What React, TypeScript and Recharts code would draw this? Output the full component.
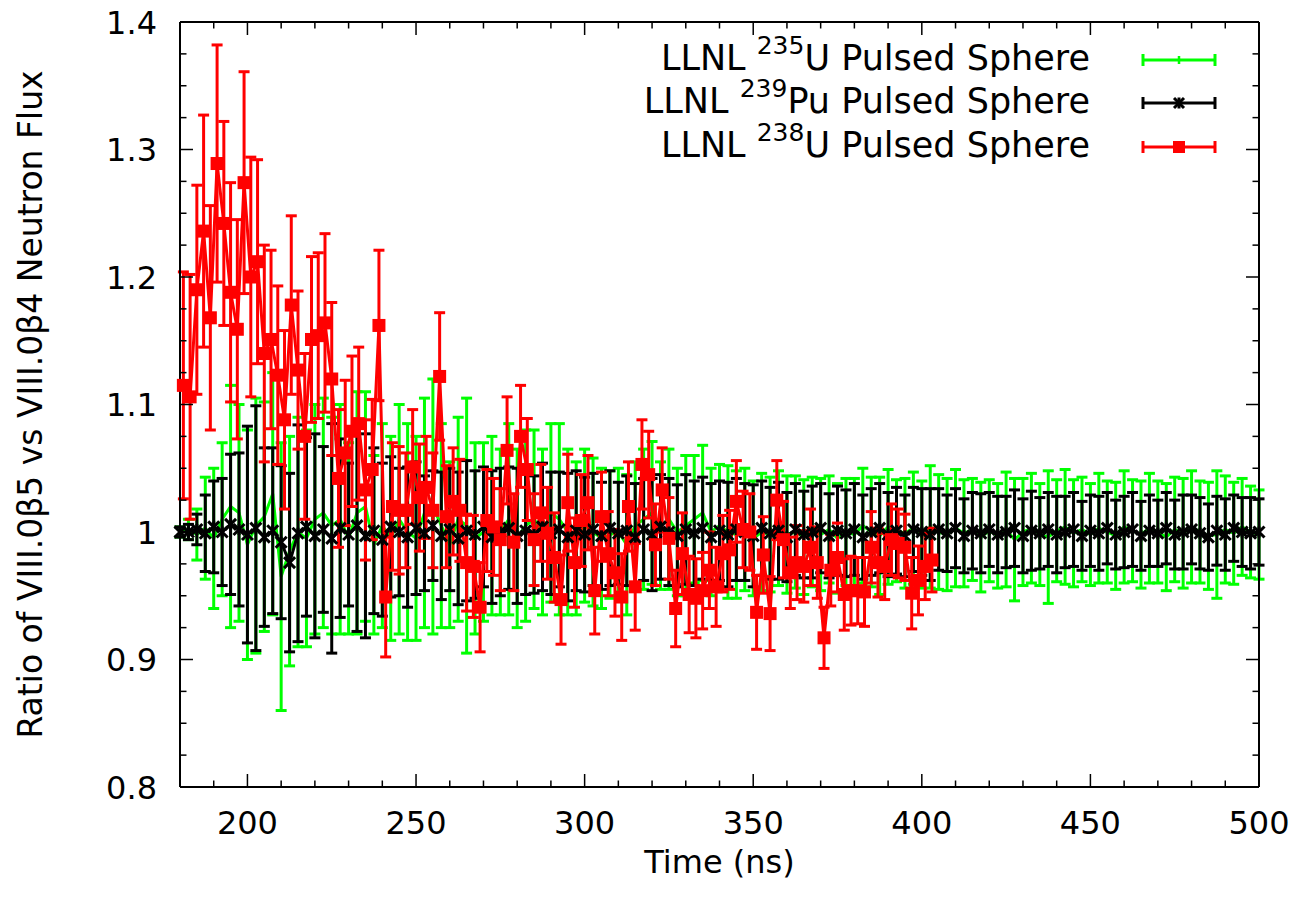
import React from 'react';
import { LineChart, Line, XAxis, YAxis, ErrorBar, Legend } from 'recharts';

// Time grid (ns) shared by the 235U and 239Pu ratios
const gridTimes = [
  180, 182.5, 185, 187.5, 190, 192.5, 195, 197.5, 200, 202.5,
  205, 207.5, 210, 212.5, 215, 217.5, 220, 222.5, 225, 227.5,
  230, 232.5, 235, 237.5, 240, 242.5, 245, 247.5, 250, 252.5,
  255, 257.5, 260, 262.5, 265, 267.5, 270, 272.5, 275, 277.5,
  280, 282.5, 285, 287.5, 290, 292.5, 295, 297.5, 300, 302.5,
  305, 307.5, 310, 312.5, 315, 317.5, 320, 322.5, 325, 327.5,
  330, 332.5, 335, 337.5, 340, 342.5, 345, 347.5, 350, 352.5,
  355, 357.5, 360, 362.5, 365, 367.5, 370, 372.5, 375, 377.5,
  380, 382.5, 385, 387.5, 390, 392.5, 395, 397.5, 400, 402.5,
  405, 407.5, 410, 412.5, 415, 417.5, 420, 422.5, 425, 427.5,
  430, 432.5, 435, 437.5, 440, 442.5, 445, 447.5, 450, 452.5,
  455, 457.5, 460, 462.5, 465, 467.5, 470, 472.5, 475, 477.5,
  480, 482.5, 485, 487.5, 490, 492.5, 495, 497.5, 500,
];

const u235Values = [
  1.000, 1.002, 0.998, 1.003, 0.995, 1.010, 1.020, 1.015, 0.990, 1.005,
  1.012, 1.030, 0.965, 0.985, 1.000, 0.995, 1.010, 1.015, 1.005, 1.010,
  0.995, 1.015, 1.020, 0.990, 1.005, 0.995, 1.010, 1.000, 0.995, 1.015,
  1.020, 1.005, 0.990, 1.010, 1.005, 0.995, 1.000, 1.005, 1.000, 1.010,
  0.995, 1.005, 1.010, 1.000, 1.015, 1.010, 1.000, 0.995, 1.005, 1.000,
  0.995, 0.998, 1.000, 0.990, 1.005, 1.010, 1.015, 1.005, 1.010, 1.000,
  1.005, 1.010, 1.015, 1.000, 1.005, 1.000, 0.998, 1.002, 0.995, 1.000,
  0.998, 1.003, 0.998, 1.000, 0.996, 1.000, 0.998, 1.002, 0.995, 1.000,
  0.998, 1.005, 1.000, 0.997, 1.004, 1.001, 0.999, 1.003, 0.998, 1.004,
  1.000, 0.998, 1.003, 0.999, 1.002, 0.996, 1.001, 0.997, 1.002, 0.994,
  1.000, 1.003, 0.998, 0.996, 1.001, 1.004, 0.999, 1.002, 0.998, 1.003,
  1.000, 0.997, 1.004, 1.001, 0.998, 1.003, 1.000, 0.996, 1.002, 0.999,
  1.004, 1.000, 0.997, 0.998, 1.002, 0.999, 1.004, 1.000, 0.998,
];

const u235Errors = [
  0.004, 0.008, 0.02, 0.04, 0.055, 0.06, 0.095, 0.085, 0.09, 0.1,
  0.09, 0.095, 0.105, 0.09, 0.09, 0.085, 0.09, 0.09, 0.085, 0.09,
  0.075, 0.095, 0.09, 0.07, 0.08, 0.08, 0.09, 0.085, 0.08, 0.09,
  0.1, 0.08, 0.065, 0.08, 0.1, 0.075, 0.07, 0.07, 0.065, 0.075,
  0.07, 0.075, 0.07, 0.065, 0.07, 0.075, 0.065, 0.06, 0.06, 0.058,
  0.055, 0.05, 0.05, 0.055, 0.05, 0.055, 0.056, 0.05, 0.055, 0.05,
  0.055, 0.05, 0.053, 0.05, 0.048, 0.052, 0.05, 0.048, 0.045, 0.046,
  0.045, 0.045, 0.046, 0.044, 0.045, 0.043, 0.044, 0.042, 0.043, 0.042,
  0.044, 0.045, 0.043, 0.046, 0.045, 0.04, 0.043, 0.044, 0.042, 0.048,
  0.045, 0.044, 0.046, 0.042, 0.04, 0.043, 0.04, 0.041, 0.045, 0.048,
  0.042, 0.043, 0.04, 0.052, 0.04, 0.045, 0.042, 0.041, 0.04, 0.043,
  0.04, 0.042, 0.044, 0.04, 0.042, 0.043, 0.04, 0.042, 0.041, 0.043,
  0.044, 0.04, 0.042, 0.05, 0.042, 0.04, 0.038, 0.036, 0.035,
];

const pu239Values = [
  1.000, 1.000, 1.002, 0.999, 1.004, 1.000, 1.006, 1.002, 0.998, 1.003,
  0.996, 1.001, 0.992, 0.976, 0.999, 1.004, 0.997, 1.002, 0.995, 1.003,
  0.998, 1.005, 0.997, 1.001, 0.994, 1.004, 1.000, 0.996, 1.003, 0.999,
  1.005, 0.997, 1.002, 0.995, 1.001, 0.998, 1.004, 0.996, 1.000, 1.003,
  0.997, 1.001, 0.998, 1.004, 0.999, 1.002, 0.996, 1.001, 0.998, 1.002,
  0.997, 1.003, 0.999, 1.001, 0.996, 1.002, 0.998, 1.004, 1.000, 0.997,
  1.002, 0.999, 1.003, 0.996, 1.001, 0.998, 1.002, 1.000, 0.997, 1.003,
  0.999, 1.001, 0.996, 1.002, 0.998, 1.000, 1.003, 0.997, 1.001, 0.999,
  1.002, 0.996, 1.000, 1.003, 0.998, 1.001, 0.997, 1.002, 1.000, 0.998,
  1.002, 0.999, 1.003, 0.997, 1.001, 0.999, 1.002, 0.998, 1.000, 1.003,
  0.997, 1.001, 0.999, 1.002, 0.998, 1.000, 1.002, 0.997, 1.001, 0.999,
  1.003, 0.998, 1.000, 1.002, 0.997, 1.001, 0.999, 1.003, 0.998, 1.000,
  1.002, 0.999, 0.996, 1.001, 0.998, 1.003, 1.000, 0.999, 1.000,
];

const pu239Errors = [
  0.004, 0.006, 0.012, 0.03, 0.036, 0.042, 0.055, 0.06, 0.085, 0.096,
  0.07, 0.065, 0.06, 0.07, 0.085, 0.07, 0.08, 0.065, 0.09, 0.07,
  0.056, 0.083, 0.08, 0.065, 0.06, 0.055, 0.05, 0.055, 0.052, 0.045,
  0.043, 0.05, 0.048, 0.052, 0.055, 0.05, 0.047, 0.052, 0.05, 0.048,
  0.053, 0.05, 0.046, 0.05, 0.048, 0.045, 0.05, 0.047, 0.045, 0.044,
  0.042, 0.045, 0.04, 0.043, 0.042, 0.04, 0.044, 0.041, 0.042, 0.04,
  0.043, 0.041, 0.04, 0.042, 0.039, 0.041, 0.04, 0.038, 0.04, 0.037,
  0.036, 0.038, 0.035, 0.036, 0.034, 0.036, 0.035, 0.033, 0.035, 0.034,
  0.036, 0.033, 0.034, 0.035, 0.033, 0.034, 0.032, 0.033, 0.034, 0.036,
  0.032, 0.03, 0.031, 0.029, 0.03, 0.031, 0.029, 0.03, 0.028, 0.03,
  0.029, 0.031, 0.028, 0.029, 0.03, 0.028, 0.029, 0.027, 0.028, 0.029,
  0.028, 0.027, 0.028, 0.029, 0.027, 0.028, 0.026, 0.028, 0.027, 0.029,
  0.027, 0.028, 0.026, 0.027, 0.028, 0.026, 0.027, 0.028, 0.026,
];

// 238U ratio, its own 2 ns grid
const u238Times = [
  181, 183, 185, 187, 189, 191, 193, 195, 197, 199,
  201, 203, 205, 207, 209, 211, 213, 215, 217, 219,
  221, 223, 225, 227, 229, 231, 233, 235, 237, 239,
  241, 243, 245, 247, 249, 251, 253, 255, 257, 259,
  261, 263, 265, 267, 269, 271, 273, 275, 277, 279,
  281, 283, 285, 287, 289, 291, 293, 295, 297, 299,
  301, 303, 305, 307, 309, 311, 313, 315, 317, 319,
  321, 323, 325, 327, 329, 331, 333, 335, 337, 339,
  341, 343, 345, 347, 349, 351, 353, 355, 357, 359,
  361, 363, 365, 367, 369, 371, 373, 375, 377, 379,
  381, 383, 385, 387, 389, 391, 393, 395, 397, 399,
  401, 403,
];

const u238Values = [
  1.115, 1.106, 1.190, 1.236, 1.168, 1.289, 1.242, 1.188, 1.159, 1.274,
  1.200, 1.212, 1.140, 1.151, 1.123, 1.088, 1.178, 1.127, 1.075, 1.151,
  1.154, 1.164, 1.120, 1.042, 1.062, 1.079, 1.085, 1.033, 1.049, 1.162,
  0.949, 1.020, 1.017,
  1.017, 1.051, 1.027, 1.035, 1.017, 1.122, 1.012, 1.024, 1.017, 0.976,
  0.973, 0.941, 1.009, 1.004, 0.994, 1.064, 0.992, 1.075, 1.049, 0.994,
  1.015, 0.999, 0.980, 0.947, 1.023, 0.976, 1.009, 1.023, 0.954, 1.012,
  0.983, 0.968, 0.949, 1.020,
  0.957, 1.053, 1.045, 0.990, 1.033, 0.995, 0.940, 0.983, 0.951, 0.948,
  0.954, 0.970, 0.957, 0.983, 0.986, 1.024, 1.002, 1.000, 0.937, 0.982,
  0.936, 1.025, 0.994, 0.968, 0.976, 0.973, 0.988, 0.976, 0.917, 0.970,
  0.980, 0.951,
  0.954, 0.954, 0.953, 0.988, 0.976, 0.973, 0.994, 0.991, 0.988, 0.952,
  0.962, 0.973, 0.978,
];

const u238Errors = [
  0.089, 0.096, 0.082, 0.091, 0.088, 0.093, 0.080, 0.086, 0.086, 0.087,
  0.094, 0.08, 0.085, 0.07, 0.07, 0.07, 0.07, 0.062, 0.065, 0.065,
  0.065, 0.07, 0.06, 0.054, 0.057, 0.059, 0.06, 0.055, 0.055, 0.059,
  0.047, 0.05, 0.05,
  0.045, 0.045, 0.042, 0.04, 0.045, 0.05, 0.04, 0.042, 0.04, 0.038,
  0.04, 0.035, 0.04, 0.038, 0.04, 0.042, 0.038, 0.04, 0.04, 0.036,
  0.038, 0.036, 0.035, 0.035, 0.038, 0.035, 0.036, 0.037, 0.034, 0.035,
  0.033, 0.034, 0.034, 0.035,
  0.034, 0.035, 0.034, 0.032, 0.033, 0.032, 0.03, 0.032, 0.03, 0.031,
  0.03, 0.03, 0.031, 0.03, 0.031, 0.032, 0.03, 0.03, 0.029, 0.03,
  0.029, 0.031, 0.03, 0.028, 0.029, 0.028, 0.03, 0.028, 0.024, 0.028,
  0.027, 0.028,
  0.027, 0.026, 0.027, 0.028, 0.027, 0.026, 0.028, 0.027, 0.026, 0.028,
  0.027, 0.026, 0.025,
];

// Axis ticks
const xTicks = [
  190, 200, 210, 220, 230, 240, 250, 260, 270, 280, 290, 300, 310, 320, 330,
  340, 350, 360, 370, 380, 390, 400, 410, 420, 430, 440, 450, 460, 470, 480, 490, 500,
];
const xMajorTicks = [200, 250, 300, 350, 400, 450, 500];
const xTickLabels = ['200', '250', '300', '350', '400', '450', '500'];

const yTicks = [
  0.8, 0.825, 0.85, 0.875, 0.9, 0.925, 0.95, 0.975, 1.0, 1.025, 1.05, 1.075,
  1.1, 1.125, 1.15, 1.175, 1.2, 1.225, 1.25, 1.275, 1.3, 1.325, 1.35, 1.375, 1.4,
];
const yMajorTicks = [0.8, 0.9, 1.0, 1.1, 1.2, 1.3, 1.4];
const yTickLabels = ['0.8', '0.9', '1', '1.1', '1.2', '1.3', '1.4'];

const FONT = '"DejaVu Sans", "Liberation Sans", sans-serif';
const GREEN = '#00ff00';
const BLACK = '#000000';
const RED = '#ff0000';

const u235Data = gridTimes.map((t, i) => ({ t, v: u235Values[i], e: u235Errors[i] }));
const pu239Data = gridTimes.map((t, i) => ({ t, v: pu239Values[i], e: pu239Errors[i] }));
const u238Data = u238Times.map((t, i) => ({ t, v: u238Values[i], e: u238Errors[i] }));

const majorIndex = (v: number, majors: number[]) =>
  majors.findIndex((m) => Math.abs(m - v) < 1e-6);

const MAJOR = 13;
const MINOR = 6.5;

const BottomTick = (props: any) => {
  const { x, y, payload } = props;
  const idx = majorIndex(payload.value, xMajorTicks);
  return (
    <g>
      <line x1={x} y1={y} x2={x} y2={y - (idx >= 0 ? MAJOR : MINOR)} stroke="#000" strokeWidth={1.5} />
      {idx >= 0 ? (
        <text x={x} y={y + 47} textAnchor="middle" fontSize={32} fontFamily={FONT} fill="#000">
          {xTickLabels[idx]}
        </text>
      ) : null}
    </g>
  );
};

const TopTick = (props: any) => {
  const { x, y, payload } = props;
  const idx = majorIndex(payload.value, xMajorTicks);
  return <line x1={x} y1={y} x2={x} y2={y + (idx >= 0 ? MAJOR : MINOR)} stroke="#000" strokeWidth={1.5} />;
};

const LeftTick = (props: any) => {
  const { x, y, payload } = props;
  const idx = majorIndex(payload.value, yMajorTicks);
  return (
    <g>
      <line x1={x} y1={y} x2={x + (idx >= 0 ? MAJOR : MINOR)} y2={y} stroke="#000" strokeWidth={1.5} />
      {idx >= 0 ? (
        <text x={x - 23} y={y + 11.5} textAnchor="end" fontSize={32} fontFamily={FONT} fill="#000">
          {yTickLabels[idx]}
        </text>
      ) : null}
    </g>
  );
};

const RightTick = (props: any) => {
  const { x, y, payload } = props;
  const idx = majorIndex(payload.value, yMajorTicks);
  return <line x1={x} y1={y} x2={x - (idx >= 0 ? MAJOR : MINOR)} y2={y} stroke="#000" strokeWidth={1.5} />;
};

const renderYTitle = (props: any) => {
  const vb = props.viewBox || { x: 0, y: 0, width: 0, height: 0 };
  const cx = vb.x + 42;
  const cy = vb.y + vb.height / 2;
  return (
    <text
      x={cx}
      y={cy}
      transform={`rotate(-90 ${cx} ${cy})`}
      textAnchor="middle"
      fontSize={33}
      fontFamily={FONT}
      fill="#000"
    >
      Ratio of VIII.0β5 vs VIII.0β4 Neutron Flux
    </text>
  );
};

const renderXTitle = (props: any) => {
  const vb = props.viewBox || { x: 0, y: 0, width: 0, height: 0 };
  const cx = vb.x + vb.width / 2;
  const cy = vb.y + 86;
  return (
    <text x={cx} y={cy} textAnchor="middle" fontSize={32} fontFamily={FONT} fill="#000">
      Time (ns)
    </text>
  );
};

const StarDot = (props: any) => {
  const { cx, cy, index } = props;
  if (cx == null || cy == null) return <g key={`s-${index}`} />;
  const r = 5.5;
  return (
    <g key={`s-${index}`} stroke={BLACK} strokeWidth={3}>
      <line x1={cx - r} y1={cy - r} x2={cx + r} y2={cy + r} />
      <line x1={cx - r} y1={cy + r} x2={cx + r} y2={cy - r} />
      <line x1={cx} y1={cy - r} x2={cx} y2={cy + r} />
    </g>
  );
};

const SquareDot = (props: any) => {
  const { cx, cy, index } = props;
  if (cx == null || cy == null) return <g key={`q-${index}`} />;
  return <rect key={`q-${index}`} x={cx - 6.5} y={cy - 6.5} width={13} height={13} fill={RED} />;
};

const legendItems = [
  { pre: 'LLNL ', sup: '235', post: 'U Pulsed Sphere', color: GREEN, marker: 'tick' },
  { pre: 'LLNL ', sup: '239', post: 'Pu Pulsed Sphere', color: BLACK, marker: 'star' },
  { pre: 'LLNL ', sup: '238', post: 'U Pulsed Sphere', color: RED, marker: 'square' },
];

const LegendSample = ({ color, marker }: { color: string; marker: string }) => (
  <svg width={78} height={20} style={{ marginLeft: 50, flexShrink: 0, overflow: 'visible' }}>
    <line x1={3} y1={10} x2={75} y2={10} stroke={color} strokeWidth={3} />
    <line x1={3} y1={4} x2={3} y2={16} stroke={color} strokeWidth={3} />
    <line x1={75} y1={4} x2={75} y2={16} stroke={color} strokeWidth={3} />
    {marker === 'tick' ? <line x1={39} y1={6} x2={39} y2={14} stroke={color} strokeWidth={2.5} /> : null}
    {marker === 'star' ? (
      <g stroke={color} strokeWidth={3}>
        <line x1={34} y1={5} x2={44} y2={15} />
        <line x1={34} y1={15} x2={44} y2={5} />
        <line x1={39} y1={4.5} x2={39} y2={15.5} />
      </g>
    ) : null}
    {marker === 'square' ? <rect x={33} y={4} width={12} height={12} fill={color} /> : null}
  </svg>
);

const renderLegend = () => (
  <div style={{ display: 'flex', flexDirection: 'column' }}>
    {legendItems.map((item) => (
      <div
        key={item.sup}
        style={{ display: 'flex', justifyContent: 'flex-end', alignItems: 'center', height: 43.5 }}
      >
        <span style={{ fontFamily: FONT, fontSize: 35, color: '#000', whiteSpace: 'nowrap', lineHeight: '43px' }}>
          {item.pre}
          <span style={{ fontSize: 25, position: 'relative', top: -16 }}>{item.sup}</span>
          {item.post}
        </span>
        <LegendSample color={item.color} marker={item.marker} />
      </div>
    ))}
  </div>
);

export default function App() {
  return (
    <div style={{ position: 'absolute', left: 0, top: 0, width: 1297, height: 900, background: '#fff' }}>
      <LineChart width={1297} height={900} margin={{ top: 18, right: 34, bottom: 13, left: 0 }}>
        <XAxis
          xAxisId="b"
          dataKey="t"
          type="number"
          domain={[180, 500]}
          ticks={xTicks}
          interval={0}
          height={100}
          tickSize={0}
          tickMargin={0}
          tickLine={false}
          tick={<BottomTick />}
          axisLine={{ stroke: '#000', strokeWidth: 2 }}
          label={renderXTitle}
        />
        <XAxis
          xAxisId="t"
          orientation="top"
          dataKey="t"
          type="number"
          domain={[180, 500]}
          allowDataOverflow
          ticks={xTicks}
          interval={0}
          height={4}
          tickSize={0}
          tickMargin={0}
          tickLine={false}
          tick={<TopTick />}
          axisLine={{ stroke: '#000', strokeWidth: 2 }}
        />
        <YAxis
          yAxisId="l"
          type="number"
          domain={[0.8, 1.4]}
          ticks={yTicks}
          interval={0}
          width={180}
          tickSize={0}
          tickMargin={0}
          tickLine={false}
          tick={<LeftTick />}
          axisLine={{ stroke: '#000', strokeWidth: 2 }}
          label={renderYTitle}
        />
        <YAxis
          yAxisId="r"
          orientation="right"
          type="number"
          domain={[0.8, 1.4]}
          allowDataOverflow
          ticks={yTicks}
          interval={0}
          width={4}
          tickSize={0}
          tickMargin={0}
          tickLine={false}
          tick={<RightTick />}
          axisLine={{ stroke: '#000', strokeWidth: 2 }}
        />
        <Legend
          layout="horizontal"
          verticalAlign="middle"
          align="center"
          content={renderLegend}
          wrapperStyle={{ top: 38, left: 568, width: 650 }}
        />
        <Line
          xAxisId="b"
          yAxisId="l"
          data={u235Data}
          dataKey="v"
          name="235U"
          type="linear"
          stroke={GREEN}
          strokeWidth={3}
          dot={false}
          activeDot={false}
          isAnimationActive={false}
        >
          <ErrorBar dataKey="e" direction="y" width={5.5} strokeWidth={3} stroke={GREEN} isAnimationActive={false} />
        </Line>
        <Line
          xAxisId="b"
          yAxisId="l"
          data={pu239Data}
          dataKey="v"
          name="239Pu"
          type="linear"
          stroke={BLACK}
          strokeWidth={3}
          dot={StarDot}
          activeDot={false}
          isAnimationActive={false}
        >
          <ErrorBar dataKey="e" direction="y" width={5.5} strokeWidth={3} stroke={BLACK} isAnimationActive={false} />
        </Line>
        <Line
          xAxisId="b"
          yAxisId="l"
          data={u238Data}
          dataKey="v"
          name="238U"
          type="linear"
          stroke={RED}
          strokeWidth={3}
          dot={SquareDot}
          activeDot={false}
          isAnimationActive={false}
        >
          <ErrorBar dataKey="e" direction="y" width={5.5} strokeWidth={3} stroke={RED} isAnimationActive={false} />
        </Line>
      </LineChart>
    </div>
  );
}
